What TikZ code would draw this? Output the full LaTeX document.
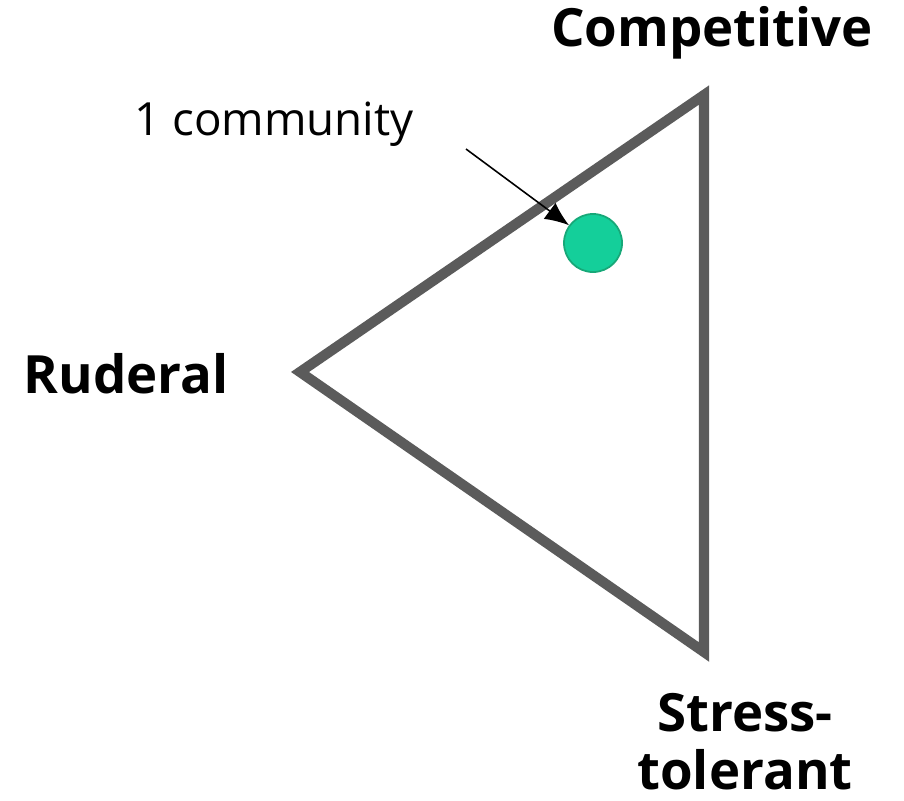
\documentclass[tikz,border=0pt]{standalone}
\usepackage{fontspec}
\setmainfont{Open Sans}
\usetikzlibrary{arrows.meta}

\definecolor{edgegray}{HTML}{5B5B5B}
\definecolor{dotgreen}{HTML}{14CF9A}
\definecolor{dotrim}{HTML}{17A878}

\begin{document}
\begin{tikzpicture}[
  x=0.01cm, y=-0.01cm,
  corner/.style={font=\bfseries\fontsize{15}{16.5}\selectfont, align=center},
  note/.style={font=\fontsize{13}{15}\selectfont},
  edge/.style={line width=2.9pt, draw=edgegray, line join=miter},
  dot/.style={circle, minimum size=5.8mm, inner sep=0pt, fill=dotgreen, draw=dotrim, line width=0.5pt},
  arrow/.style={-{Latex[length=2.4mm,width=2mm]}, line width=0.45pt}
]
\useasboundingbox (0,0) rectangle (904,800);

% corners of the triangle
\coordinate (comp) at (704,95);
\coordinate (rud) at (300,372);
\coordinate (stress) at (704,652);

\draw[edge] (comp) -- (rud) -- (stress) -- cycle;

\node[corner] (compl) at (712,33) {Competitive};
\node[corner] (rudl) at (126,374) {Ruderal};
\node[corner] (stressl) at (745,742) {Stress-\\tolerant};

\node[dot] (community) at (593,243) {};
\node[note] (commlabel) at (274,124) {1 community};
\coordinate (tail) at (466,149);
\draw[arrow] (tail) -- (community);

\end{tikzpicture}
\end{document}
